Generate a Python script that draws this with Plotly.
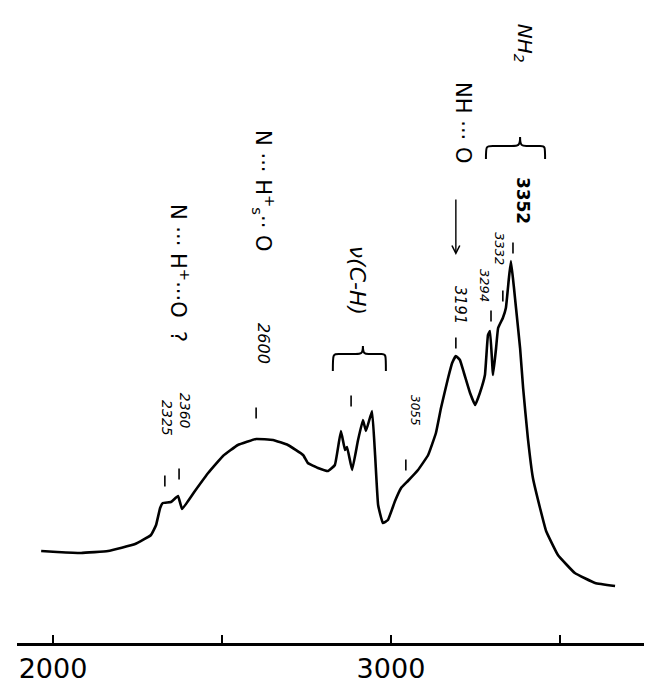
import plotly.graph_objects as go

# IR spectrum (wavenumber cm-1, relative absorbance)
wavenumber = [1965, 2012, 2083, 2163, 2243, 2290, 2305, 2317, 2325, 2349, 2370, 2382, 2420,
              2459, 2503, 2547, 2601, 2651, 2695, 2740, 2754, 2784, 2814, 2834, 2852,
              2864, 2870, 2885, 2902, 2917, 2926, 2944, 2953, 2962, 2976, 2991, 3012,
              3030, 3050, 3080, 3110, 3133, 3148, 3169, 3181, 3192, 3204, 3216, 3234,
              3249, 3263, 3278, 3287, 3293, 3302, 3311, 3317, 3331, 3340, 3349, 3355,
              3364, 3370, 3382, 3391, 3405, 3420, 3441, 3459, 3494, 3544, 3604, 3663]
absorbance = [100, 99, 98, 100, 107, 116, 126, 143, 148, 149, 155, 142, 160,
              178, 195, 206, 212, 211, 206, 196, 188, 183, 180, 186, 220,
              201, 204, 181, 210, 231, 220, 240, 196, 146, 128, 131, 150,
              163, 170, 181, 196, 218, 243, 273, 288, 295, 291, 278, 258,
              246, 258, 276, 316, 320, 276, 303, 323, 333, 343, 373, 390,
              363, 343, 303, 263, 213, 173, 143, 120, 96, 78, 68, 65]

# short marks drawn above the assigned bands
band_marks_x = [2331, 2373, 2601, 2882, 3044, 3192, 3296, 3331, 3361]
band_marks_y = [170, 177, 238, 250, 186, 308, 335, 355, 403]

tick_vals = [2000, 2500, 3000, 3500]
tick_text = ["2000", "", "3000", ""]

fig = go.Figure()
fig.add_trace(go.Scatter(x=wavenumber, y=absorbance, mode="lines",
                         line=dict(color="black", width=2.6, shape="spline", smoothing=0.3),
                         hoverinfo="skip", showlegend=False))
fig.add_trace(go.Scatter(x=band_marks_x, y=band_marks_y, mode="markers",
                         marker=dict(symbol="line-ns", size=8, line=dict(color="black", width=1.6)),
                         hoverinfo="skip", showlegend=False))

hand = "DejaVu Sans"

def label(text, x, y, size, angle=90, italic=False, bold=False):
    if italic:
        text = "<i>" + text + "</i>"
    if bold:
        text = "<b>" + text + "</b>"
    fig.add_annotation(x=x, y=y, xref="x", yref="y", text=text, showarrow=False,
                       textangle=angle, font=dict(family=hand, size=size, color="black"))

label("N ··· H<sup>+</sup>···O  ?", 2376, 378, 21)
label("2325", 2337, 233, 14, italic=True)
label("2360", 2391, 240, 14, italic=True)
label("N ··· H<sup>+</sup><sub>s</sub>·· O", 2624, 460, 21)
label("2600", 2624, 307, 16, italic=True)
label("ν(C-H)", 2903, 371, 22, italic=True)
label("3055", 3071, 240, 12, italic=True)
label("NH ··· O", 3213, 528, 21)
label("3191", 3204, 346, 15, italic=True)
label("NH<sub>2</sub>", 3394, 608, 20, italic=True)
label("3352", 3391, 451, 17, bold=True)
label("3332", 3322, 402, 13, italic=True)
label("3294", 3278, 365, 13, italic=True)

# arrow pointing down toward the 3191 band
fig.add_annotation(x=3192, y=396, xref="x", yref="y", ax=0, ay=-57, text="",
                   showarrow=True, arrowhead=5, arrowsize=1.1, arrowwidth=1.4,
                   arrowcolor="black")

# unit label
fig.add_annotation(x=3598, y=-24, xref="x", yref="y", text="<i>CM<sup>-1</sup></i>",
                   showarrow=False, font=dict(family=hand, size=15, color="black"))

def brace_path(x0, x1, xc, ybase, yend, ytip):
    """horizontal curly brace, cusp pointing up"""
    q = (xc - x0) * 0.5
    r = (x1 - xc) * 0.5
    return (f"M {x0},{yend} C {x0},{ybase} {x0},{ybase} {x0 + q * 0.4},{ybase} "
            f"L {xc - q * 0.5},{ybase} C {xc - 6},{ybase} {xc},{ybase} {xc},{ytip} "
            f"C {xc},{ybase} {xc + 6},{ybase} {xc + r * 0.5},{ybase} "
            f"L {x1 - r * 0.4},{ybase} C {x1},{ybase} {x1},{ybase} {x1},{yend}")

fig.add_shape(type="path", xref="x", yref="y",
              path=brace_path(2828, 2985, 2917, 297, 280, 305),
              line=dict(color="black", width=2))
fig.add_shape(type="path", xref="x", yref="y",
              path=brace_path(3281, 3456, 3382, 505, 492, 514),
              line=dict(color="black", width=2))

fig.update_layout(
    width=652, height=685,
    margin=dict(l=9, r=0, t=0, b=50),
    paper_bgcolor="white", plot_bgcolor="white",
    xaxis=dict(range=[1893.5, 3796], tickvals=tick_vals, ticktext=tick_text,
               ticks="inside", ticklen=8, tickwidth=1.5, tickcolor="black",
               showline=True, linecolor="black", linewidth=2.6,
               showgrid=False, zeroline=False,
               tickfont=dict(family="DejaVu Sans", size=27, color="black")),
    yaxis=dict(range=[8, 643], visible=False, showgrid=False, zeroline=False),
)

fig.write_html("out.html")
